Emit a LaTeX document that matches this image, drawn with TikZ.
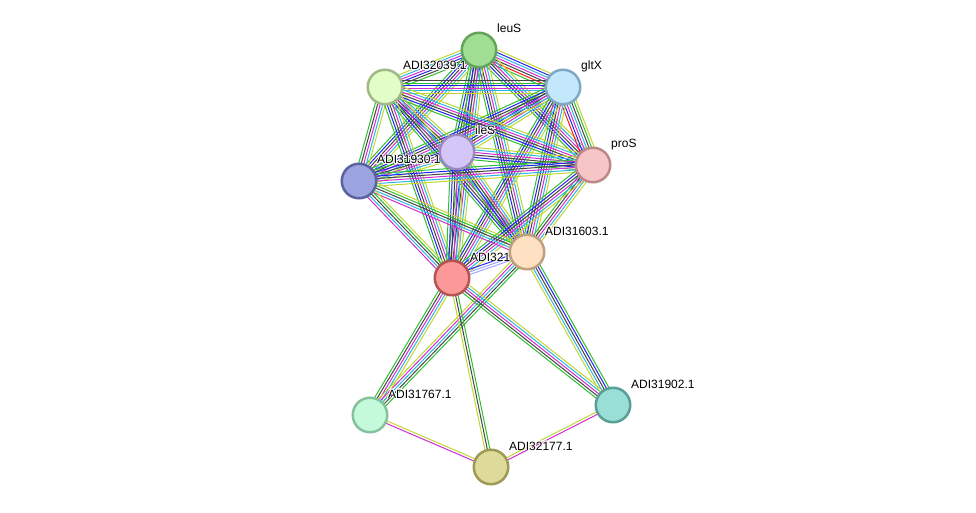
\documentclass[tikz,border=0pt]{standalone}
\usepackage{fontspec}
\setmainfont{Liberation Sans}
\usepackage{contour}
\contourlength{0.8pt}
\usetikzlibrary{calc}
\pgfdeclarelayer{edges}
\pgfdeclarelayer{labels}
\pgfsetlayers{edges,labels,main}

% evidence colours
\definecolor{cnbh}{HTML}{2FBF2F}
\definecolor{cfus}{HTML}{FF1A1A}
\definecolor{ccoo}{HTML}{2424F0}
\definecolor{ccxp}{HTML}{454545}
\definecolor{cexp}{HTML}{D22CD2}
\definecolor{cdbs}{HTML}{2EB6E0}
\definecolor{ctxt}{HTML}{C2D62E}
\definecolor{chom}{HTML}{A4A4FF}

% protein colours (fill / rim)
\definecolor{fleuS}{HTML}{A0DE93}\definecolor{dleuS}{HTML}{62A55A}
\definecolor{fgltX}{HTML}{C4E8FB}\definecolor{dgltX}{HTML}{7FA8C2}
\definecolor{fn39}{HTML}{E2FDC6}\definecolor{dn39}{HTML}{A0BA86}
\definecolor{fileS}{HTML}{D5C6F8}\definecolor{dileS}{HTML}{9A89BE}
\definecolor{fproS}{HTML}{F6C6C6}\definecolor{dproS}{HTML}{BC8888}
\definecolor{fn30}{HTML}{9BA4DE}\definecolor{dn30}{HTML}{5A62A0}
\definecolor{fn03}{HTML}{FEE0C3}\definecolor{dn03}{HTML}{BFA07E}
\definecolor{fn21}{HTML}{FB9898}\definecolor{dn21}{HTML}{B65454}
\definecolor{fn67}{HTML}{C4FAD9}\definecolor{dn67}{HTML}{86C29E}
\definecolor{fn02}{HTML}{99DFD6}\definecolor{dn02}{HTML}{5A9E98}
\definecolor{fn77}{HTML}{DEDB9A}\definecolor{dn77}{HTML}{9E9A55}

% bundle of parallel lines between two nodes
\newcommand{\bundle}[3]{%
  \def\nlines{0}%
  \foreach \col in {#3} {\pgfmathtruncatemacro\tmpn{\nlines+1}\global\let\nlines\tmpn}%
  \foreach \col [count=\k] in {#3} {%
    \pgfmathsetmacro\bshift{(\k-(\nlines+1)/2)*2.5}%
    \draw[\col] ($(#1.center)!\bshift pt!90:(#2.center)$) -- ($(#2.center)!\bshift pt!-90:(#1.center)$);
  }%
}

\begin{document}
\begin{tikzpicture}[x=1pt,y=-1pt,
  prot/.style={circle,inner sep=0pt,minimum size=34.5pt,line width=2.5pt,draw=d#1,fill=f#1},
  lbl/.style={anchor=base west,inner sep=0pt,font=\fontsize{12}{14}\selectfont},
  nbh/.style={line width=1pt,draw=cnbh},
  fus/.style={line width=1pt,draw=cfus},
  coo/.style={line width=1pt,draw=ccoo},
  cxp/.style={line width=1pt,draw=ccxp},
  exp/.style={line width=1pt,draw=cexp},
  dbs/.style={line width=1pt,draw=cdbs},
  txt/.style={line width=1pt,draw=ctxt},
  hom/.style={line width=1pt,draw=chom}]
\useasboundingbox (0,0) rectangle (976,513);

% proteins
\node[prot=leuS] (leuS) at (479,50) {};
\node[prot=gltX] (gltX) at (563,87) {};
\node[prot=n39] (n39) at (385,87) {};
\node[prot=ileS] (ileS) at (457,152) {};
\node[prot=proS] (proS) at (593,165) {};
\node[prot=n30] (n30) at (359,181) {};
\node[prot=n03] (n03) at (527,252) {};
\node[prot=n21] (n21) at (452,278) {};
\node[prot=n67] (n67) at (370,415) {};
\node[prot=n02] (n02) at (613,405) {};
\node[prot=n77] (n77) at (491,467) {};

% labels
\begin{pgfonlayer}{labels}
\node[lbl] (tleuS) at ([shift={(18,-17)}]leuS.center) {\contour{white}{leuS}};
\node[lbl] (tgltX) at ([shift={(18,-17)}]gltX.center) {\contour{white}{gltX}};
\node[lbl] (tn39) at ([shift={(18,-17)}]n39.center) {\contour{white}{ADI32039.1}};
\node[lbl] (tileS) at ([shift={(18,-17)}]ileS.center) {\contour{white}{ileS}};
\node[lbl] (tproS) at ([shift={(18,-17)}]proS.center) {\contour{white}{proS}};
\node[lbl] (tn30) at ([shift={(18,-17)}]n30.center) {\contour{white}{ADI31930.1}};
\node[lbl] (tn03) at ([shift={(18,-17)}]n03.center) {\contour{white}{ADI31603.1}};
\node[lbl] (tn21) at ([shift={(18,-17)}]n21.center) {\contour{white}{ADI321}};
\node[lbl] (tn67) at ([shift={(18,-17)}]n67.center) {\contour{white}{ADI31767.1}};
\node[lbl] (tn02) at ([shift={(18,-17)}]n02.center) {\contour{white}{ADI31902.1}};
\node[lbl] (tn77) at ([shift={(18,-17)}]n77.center) {\contour{white}{ADI32177.1}};
\end{pgfonlayer}

% interactions
\begin{pgfonlayer}{edges}
\bundle{leuS}{gltX}{nbh,fus,cxp,exp,dbs,coo,txt}
\bundle{leuS}{n39}{txt,dbs,exp,coo,cxp,nbh}
\bundle{leuS}{ileS}{nbh,coo,cxp,exp,dbs,txt}
\bundle{leuS}{proS}{nbh,coo,cxp,exp,dbs,txt}
\bundle{leuS}{n30}{nbh,coo,cxp,exp,dbs,txt}
\bundle{leuS}{n03}{nbh,coo,cxp,exp,dbs,txt}
\bundle{leuS}{n21}{nbh,coo,cxp,exp,dbs,txt}
\bundle{gltX}{n39}{cxp,nbh,coo,exp,dbs,txt}
\bundle{gltX}{ileS}{nbh,coo,cxp,exp,dbs,txt}
\bundle{gltX}{proS}{fus,coo,exp,dbs,cxp,nbh,txt}
\bundle{gltX}{n30}{nbh,coo,cxp,exp,dbs,txt}
\bundle{gltX}{n03}{nbh,coo,cxp,exp,dbs,txt}
\bundle{gltX}{n21}{nbh,coo,cxp,exp,dbs,txt}
\bundle{n39}{ileS}{nbh,coo,cxp,exp,dbs,txt}
\bundle{n39}{proS}{nbh,coo,cxp,exp,dbs,txt}
\bundle{n39}{n30}{nbh,cxp,exp,dbs,txt}
\bundle{n39}{n03}{nbh,coo,cxp,exp,dbs,txt}
\bundle{n39}{n21}{nbh,coo,cxp,exp,dbs,txt}
\bundle{ileS}{proS}{nbh,coo,cxp,exp,dbs,txt}
\bundle{ileS}{n30}{nbh,coo,cxp,exp,dbs,txt}
\bundle{ileS}{n03}{nbh,coo,cxp,exp,dbs,txt}
\bundle{ileS}{n21}{nbh,coo,cxp,exp,dbs,txt}
\bundle{proS}{n30}{nbh,coo,cxp,exp,dbs,txt}
\bundle{proS}{n03}{nbh,cxp,exp,dbs,txt}
\bundle{proS}{n21}{nbh,coo,cxp,exp,dbs,txt}
\bundle{n30}{n03}{exp,dbs,cxp,nbh,txt}
\bundle{n30}{n21}{exp,dbs,cxp,nbh,txt}
\bundle{n03}{n21}{coo,hom,hom}
\bundle{n21}{n67}{nbh,cxp,exp,dbs,txt}
\bundle{n03}{n67}{txt,exp,dbs,cxp,nbh}
\bundle{n21}{n77}{txt,cxp,nbh}
\bundle{n21}{n02}{nbh,cxp,exp,dbs,txt}
\bundle{n03}{n02}{txt,dbs,cxp,coo,nbh}
\bundle{n67}{n77}{exp,txt}
\bundle{n02}{n77}{txt,exp}
\end{pgfonlayer}
\end{tikzpicture}
\end{document}
